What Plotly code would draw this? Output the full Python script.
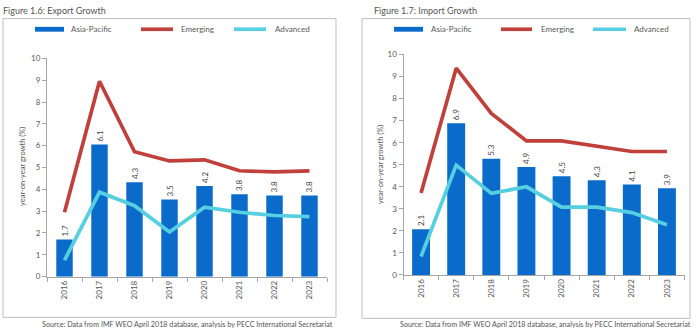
import plotly.graph_objects as go

years = ["2016", "2017", "2018", "2019", "2020", "2021", "2022", "2023"]

# Figure 1.6: Export Growth
exp_asia = [1.7, 6.05, 4.33, 3.53, 4.15, 3.78, 3.72, 3.72]
exp_asia_labels = ["1.7", "6.1", "4.3", "3.5", "4.2", "3.8", "3.8", "3.8"]
exp_emerging = [2.95, 8.95, 5.72, 5.3, 5.35, 4.85, 4.8, 4.85]
exp_advanced = [0.75, 3.87, 3.25, 2.05, 3.18, 2.95, 2.8, 2.75]

# Figure 1.7: Import Growth
imp_asia = [2.08, 6.88, 5.27, 4.9, 4.48, 4.3, 4.1, 3.93]
imp_asia_labels = ["2.1", "6.9", "5.3", "4.9", "4.5", "4.3", "4.1", "3.9"]
imp_emerging = [3.72, 9.38, 7.33, 6.08, 6.08, 5.85, 5.6, 5.6]
imp_advanced = [0.84, 4.98, 3.7, 4.0, 3.08, 3.08, 2.83, 2.28]

titles = ["Figure 1.6: Export Growth", "Figure 1.7: Import Growth"]
series_names = ["Asia-Pacific", "Emerging", "Advanced"]
y_title = "year-on-year growth (%)"
source = "Source: Data from IMF WEO April 2018 database, analysis by PECC International Secretariat"

W, H = 700, 335
FONT = "Liberation Sans Narrow, Lato, Arial Narrow, sans-serif"
BAR_C = "#0A6BCB"
EMG_C = "#C0413B"
ADV_C = "#56CFE0"
TXT_C = "#595959"
AX_C = "#A6A6A6"

def px(x):
    return x / W

def py(y):
    return (H - y) / H

fig = go.Figure()

panels = [
    dict(asia=exp_asia, labels=exp_asia_labels, emg=exp_emerging, adv=exp_advanced,
         xa="x", ya="y", bw=0.47),
    dict(asia=imp_asia, labels=imp_asia_labels, emg=imp_emerging, adv=imp_advanced,
         xa="x2", ya="y2", bw=0.51),
]

for p in panels:
    fig.add_trace(go.Bar(x=years, y=p["asia"], name=series_names[0], marker_color=BAR_C,
                         marker_line_width=0, width=p["bw"], text=p["labels"],
                         textposition="outside", textangle=-90, constraintext="none",
                         cliponaxis=False,
                         textfont=dict(family=FONT, size=8, color="#444444"),
                         xaxis=p["xa"], yaxis=p["ya"], showlegend=False))
    fig.add_trace(go.Scatter(x=years, y=p["emg"], name=series_names[1], mode="lines",
                             line=dict(color=EMG_C, width=3.7),
                             xaxis=p["xa"], yaxis=p["ya"], showlegend=False))
    fig.add_trace(go.Scatter(x=years, y=p["adv"], name=series_names[2], mode="lines",
                             line=dict(color=ADV_C, width=3.7),
                             xaxis=p["xa"], yaxis=p["ya"], showlegend=False))

xcommon = dict(type="category", showline=True, linecolor=AX_C, linewidth=1,
               ticks="outside", ticklen=4, tickcolor=AX_C, tickson="boundaries",
               tickangle=-90, tickfont=dict(family=FONT, size=8, color=TXT_C),
               showgrid=False, zeroline=False, fixedrange=True)
ycommon = dict(range=[0, 10], dtick=1, showline=True, linecolor=AX_C, linewidth=1,
               ticks="outside", ticklen=4, tickcolor=AX_C,
               tickfont=dict(family=FONT, size=8, color=TXT_C),
               showgrid=False, zeroline=False, fixedrange=True)

fig.update_layout(
    width=W, height=H,
    margin=dict(l=0, r=0, t=0, b=0),
    paper_bgcolor="white", plot_bgcolor="white",
    xaxis=dict(domain=[px(47), px(327)], anchor="y", **xcommon),
    yaxis=dict(domain=[py(280), py(55)], anchor="x", **ycommon),
    xaxis2=dict(domain=[px(403.5), px(684.5)], anchor="y2", **xcommon),
    yaxis2=dict(domain=[py(278.3), py(51)], anchor="x2", **ycommon),
)

shapes = []
annotations = []

# boxes
for (x0, x1, y0, y1) in [(3, 336, 14, 322), (362, 690, 14, 323)]:
    shapes.append(dict(type="rect", xref="paper", yref="paper",
                       x0=px(x0), x1=px(x1), y0=py(y1), y1=py(y0),
                       line=dict(color="#BFBFBF", width=1), fillcolor="rgba(0,0,0,0)"))

# titles
for t, x in zip(titles, [1, 372]):
    annotations.append(dict(text=t, xref="paper", yref="paper", x=px(x), y=py(6),
                            xanchor="left", yanchor="middle", showarrow=False,
                            font=dict(family=FONT, size=9, color="#555555")))

# y-axis titles
for x, y in [(22, 167), (380, 164)]:
    annotations.append(dict(text=y_title, xref="paper", yref="paper", x=px(x), y=py(y),
                            xanchor="center", yanchor="middle", textangle=-90, showarrow=False,
                            font=dict(family=FONT, size=7.5, color=TXT_C)))

# source lines
for x in [335, 693]:
    annotations.append(dict(text=source, xref="paper", yref="paper", x=px(x), y=py(329),
                            xanchor="right", yanchor="middle", showarrow=False,
                            font=dict(family=FONT, size=7.2, color="#555555")))

# legends
leg_layout = [
    (35, 64, 69, 141, 173, 179, 234, 266, 273),
    (394, 423, 429, 501, 532, 539, 593, 626, 632),
]
LY = 25
for (b0, b1, bt, e0, e1, et, a0, a1, at) in leg_layout:
    shapes.append(dict(type="rect", xref="paper", yref="paper",
                       x0=px(b0), x1=px(b1), y0=py(LY + 2.5), y1=py(LY - 2.5),
                       line=dict(width=0), fillcolor=BAR_C))
    shapes.append(dict(type="line", xref="paper", yref="paper",
                       x0=px(e0), x1=px(e1), y0=py(LY), y1=py(LY),
                       line=dict(color=EMG_C, width=3.7)))
    shapes.append(dict(type="line", xref="paper", yref="paper",
                       x0=px(a0), x1=px(a1), y0=py(LY), y1=py(LY),
                       line=dict(color=ADV_C, width=3.7)))
    for name, tx in zip(series_names, [bt, et, at]):
        annotations.append(dict(text=name, xref="paper", yref="paper", x=px(tx), y=py(LY),
                                xanchor="left", yanchor="middle", showarrow=False,
                                font=dict(family=FONT, size=8, color=TXT_C)))

fig.update_layout(shapes=shapes, annotations=annotations)

fig.write_html("out.html", config={"displayModeBar": False})
